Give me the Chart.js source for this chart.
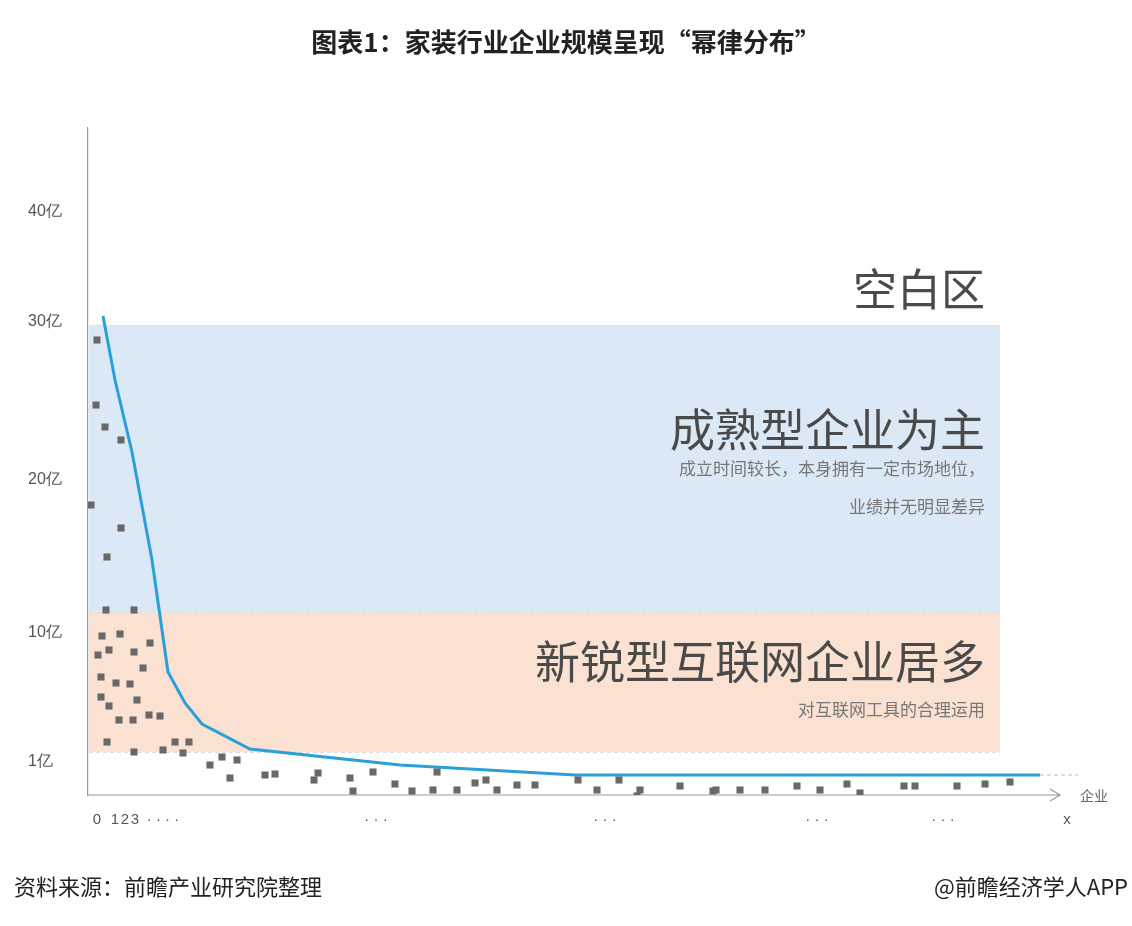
<!DOCTYPE html>
<html><head><meta charset="utf-8">
<script src="https://cdn.jsdelivr.net/npm/chart.js@4"></script>
<style>
body{margin:0;width:1132px;height:926px;background:#fff;font-family:"Noto Sans CJK SC",sans-serif;position:relative;overflow:hidden}
#c{position:absolute;left:0;top:0}
.t{position:absolute;white-space:nowrap;color:#555}
</style></head><body>
<canvas id="c" width="1132" height="926"></canvas>
<div class="t" style="left:0;width:1132px;text-align:center;top:22px;font-size:26px;font-weight:bold;color:#222">图表1：家装行业企业规模呈现“幂律分布”</div>
<div class="t" style="right:147px;top:255px;font-size:44px;color:#4a4a4a">空白区</div>
<div class="t" style="right:147px;top:395px;font-size:45px;color:#4a4a4a">成熟型企业为主</div>
<div class="t" style="right:147px;top:455px;font-size:17px;color:#777">成立时间较长，本身拥有一定市场地位，</div>
<div class="t" style="right:147px;top:493px;font-size:17px;color:#777">业绩并无明显差异</div>
<div class="t" style="right:147px;top:627px;font-size:45px;color:#4a4a4a">新锐型互联网企业居多</div>
<div class="t" style="right:147px;top:696px;font-size:17px;color:#777">对互联网工具的合理运用</div>
<div class="t" style="left:1080px;top:785px;font-size:14px;color:#666">企业</div>
<div class="t" style="left:14px;top:869px;font-size:22px;color:#222">资料来源：前瞻产业研究院整理</div>
<div class="t" style="right:4px;top:869px;font-size:22px;color:#222">@前瞻经济学人APP</div>
<script>
// x: enterprise rank position units; y: axis level units (non-linear scale as drawn)
const yTickValues=[33,162,315,473,583];
const yTickLabels=['1亿','10亿','20亿','30亿','40亿'];
const xTickValues=[9,27,37,47,75,288,517,729,855,979];
const xTickLabels=['0','1','2','3','· · · ·','· · ·','· · ·','· · ·','· · ·','x'];
const bandBounds=[43,183,470]; // orange 43-183, blue 183-470
const scatterX=[3,9,8,17,33,19,33,46,18,32,14,21,62,10,46,55,13,28,42,13,21,49,31,45,61,72,19,46,75,87,95,101,122,134,142,149,177,187,226,230,262,265,285,307,324,345,349,369,387,398,409,429,447,490,509,531,549,552,592,625,628,652,677,709,732,759,772,816,827,869,897,922];
const scatterY=[290,455,390,368,355,238,267,185,185,161,159,145,152,140,143,127,118,112,111,98,89,95,75,75,80,79,53,43,45,53,42,53,30,38,17,35,20,21,15,22,17,4,23,11,4,5,23,5,12,15,5,10,10,15,5,15,-1,5,9,4,5,5,5,9,5,11,2,9,9,9,11,13];
const curveX=[15,27,44,64,80,97,114,162,312,487,952];
const curveY=[479,415,343,235,123,92,71,46,30,20,20];
const bands={id:'bands',beforeDatasetsDraw(ch){const {ctx,scales:{x,y}}=ch;const l=x.getPixelForValue(0)+1,r=x.getPixelForValue(912);
 ctx.save();ctx.fillStyle='#fbe1d2';ctx.fillRect(l,y.getPixelForValue(bandBounds[1]),r-l,y.getPixelForValue(bandBounds[0])-y.getPixelForValue(bandBounds[1]));
 ctx.fillStyle='#dbe9f7';ctx.fillRect(l,y.getPixelForValue(bandBounds[2]),r-l,y.getPixelForValue(bandBounds[1])-y.getPixelForValue(bandBounds[2]));
 ctx.strokeStyle='#ddd';ctx.setLineDash([4,3]);ctx.beginPath();
 [bandBounds[0],bandBounds[1],bandBounds[2]].forEach(v=>{const p=y.getPixelForValue(v)+.5;ctx.moveTo(l,p);ctx.lineTo(r,p)});ctx.stroke();
 ctx.strokeStyle='#bbb';ctx.beginPath();const p=y.getPixelForValue(20);ctx.moveTo(x.getPixelForValue(952),p);ctx.lineTo(x.getPixelForValue(990),p);ctx.stroke();
 ctx.setLineDash([]);ctx.strokeStyle='#999';ctx.lineWidth=1.2;const b=y.getPixelForValue(0),ax=x.getPixelForValue(972);
 ctx.beginPath();ctx.moveTo(l-1,b);ctx.lineTo(ax,b);ctx.moveTo(ax-10,b-6);ctx.lineTo(ax,b);ctx.lineTo(ax-10,b+6);ctx.stroke();ctx.restore();}};
new Chart(document.getElementById('c'),{
 data:{datasets:[
  {type:'scatter',data:scatterX.map((v,i)=>({x:v,y:scatterY[i]})),pointStyle:'rect',pointRadius:5,backgroundColor:'#686868',borderWidth:0},
  {type:'line',data:curveX.map((v,i)=>({x:v,y:curveY[i]})),borderColor:'#2a9fd8',borderWidth:3,pointRadius:0,tension:0}
 ]},
 options:{responsive:false,animation:false,layout:{padding:{left:28,top:128,right:64,bottom:101}},
  plugins:{legend:{display:false},tooltip:{enabled:false}},
  scales:{
   x:{type:'linear',min:0,max:980,grid:{display:false},border:{display:false},
    afterBuildTicks(s){s.ticks=xTickValues.map(v=>({value:v}))},afterFit(s){s.height=30},
    ticks:{autoSkip:false,maxRotation:0,color:'#555',font:{size:15},padding:8,callback:(v,i)=>xTickLabels[i]}},
   y:{type:'linear',min:0,max:667,grid:{display:false},border:{color:'#999',width:1.2},
    afterBuildTicks(s){s.ticks=yTickValues.map(v=>({value:v}))},afterFit(s){s.width=60},
    ticks:{autoSkip:false,color:'#555',font:{size:16},crossAlign:'far',callback:(v,i)=>yTickLabels[i]}}
  }},
 plugins:[bands]});
</script></body></html>
